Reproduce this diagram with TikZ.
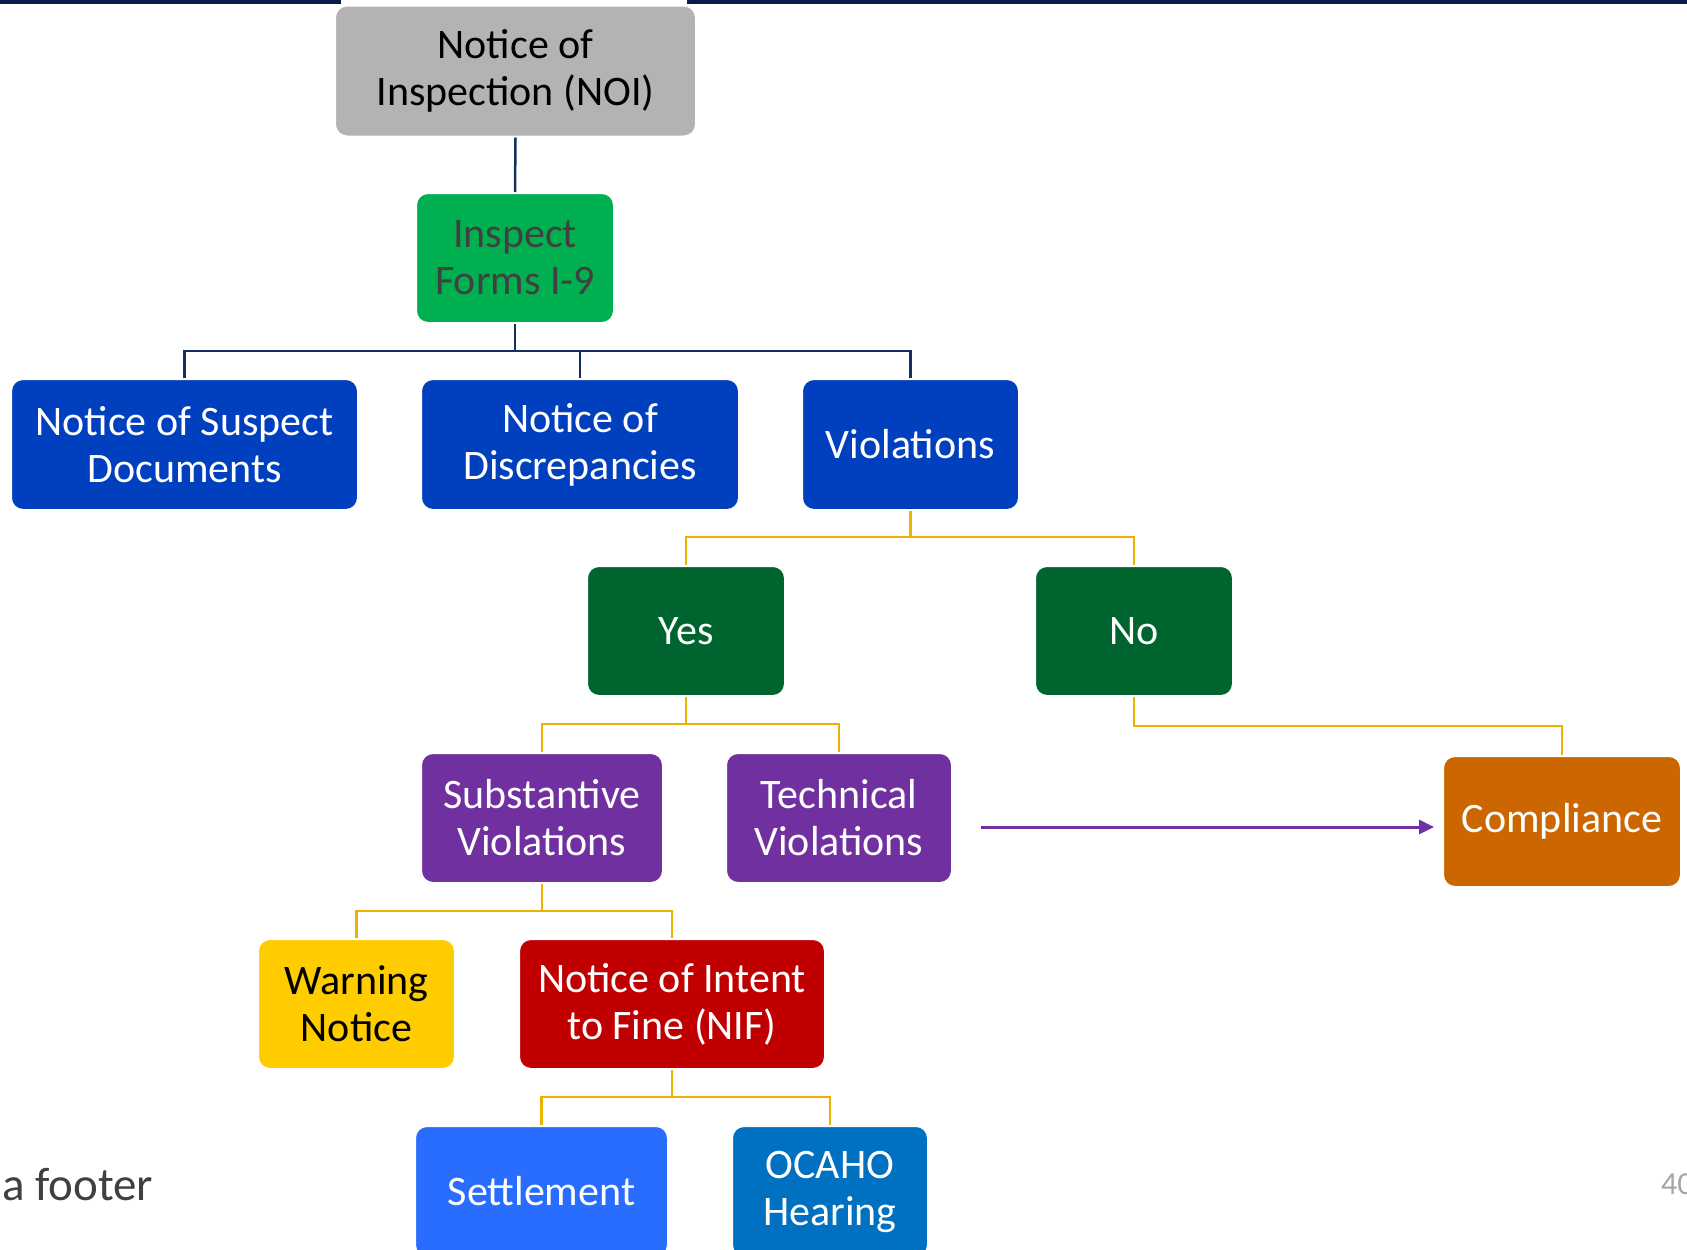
\documentclass[tikz,border=0pt]{standalone}
\usepackage{fontspec}
\setmainfont{Carlito}
\usetikzlibrary{arrows.meta}
\definecolor{topbar}{HTML}{0B1A4B}
\definecolor{navyline}{HTML}{13305E}
\definecolor{yline}{HTML}{EDB100}
\definecolor{cgray}{HTML}{B3B3B3}
\definecolor{cgreen}{HTML}{00B050}
\definecolor{cblue}{HTML}{0040BE}
\definecolor{cdkgreen}{HTML}{00642F}
\definecolor{cpurple}{HTML}{7030A0}
\definecolor{corange}{HTML}{CC6600}
\definecolor{cyellow}{HTML}{FFCC00}
\definecolor{cred}{HTML}{C00000}
\definecolor{cbright}{HTML}{296DFF}
\definecolor{cocaho}{HTML}{0070C0}
\definecolor{txtgray}{HTML}{404040}
\definecolor{pggray}{HTML}{A6A6A6}
\tikzset{
  boxstyle/.style={rectangle, rounded corners=12pt, draw=white, line width=2pt,
    inner sep=0pt, align=center, text=white,
    font=\fontsize{42}{47}\selectfont},
  navyconn/.style={draw=navyline, line width=2.5pt},
  yconn/.style={draw=yline, line width=2.8pt},
}
\begin{document}
\begin{tikzpicture}[x=1pt,y=-1pt]
\useasboundingbox (0,0) rectangle (1687,1250);
\fill[white] (0,0) rectangle (1687,1250);
\fill[topbar] (0,0) rectangle (1687,3.5);
\fill[white] (341,0) rectangle (687,4);

\coordinate (b1) at (515,351);
\coordinate (b2) at (910.5,537);
\coordinate (b3) at (686,724);
\coordinate (b4) at (1134,726);
\coordinate (b5) at (542,911);
\coordinate (b6) at (672,1097);
\coordinate (as) at (981,827);

% boxes
\node[boxstyle, fill=cgray, text=black, minimum width=361pt, minimum height=131pt] (noi) at (515.5,71) {Notice of\\Inspection (NOI)};
\node[boxstyle, fill=cgreen, text=txtgray, minimum width=198pt, minimum height=130pt] (insp) at (515,258) {Inspect\\Forms I-9};
\node[boxstyle, fill=cblue, minimum width=347pt, minimum height=131pt] (nsd) at (184.5,444.5) {Notice of Suspect\\Documents};
\node[boxstyle, fill=cblue, minimum width=318pt, minimum height=131pt] (nod) at (580,444.5) {Notice of\\Discrepancies};
\node[boxstyle, fill=cblue, minimum width=217pt, minimum height=131pt] (viol) at (910.5,444.5) {Violations};
\node[boxstyle, fill=cdkgreen, minimum width=198pt, minimum height=130pt] (yes) at (686,631) {Yes};
\node[boxstyle, fill=cdkgreen, minimum width=198pt, minimum height=130pt] (no) at (1134,631) {No};
\node[boxstyle, fill=cpurple, minimum width=242pt, minimum height=130pt] (subst) at (542,818) {Substantive\\Violations};
\node[boxstyle, fill=cpurple, minimum width=226pt, minimum height=130pt] (tech) at (839,818) {Technical\\Violations};
\node[boxstyle, fill=corange, minimum width=238pt, minimum height=131pt] (comp) at (1562,821.5) {Compliance};
\node[boxstyle, fill=cyellow, text=black, minimum width=197pt, minimum height=130pt] (warn) at (356.5,1004) {Warning\\Notice};
\node[boxstyle, fill=cred, minimum width=306pt, minimum height=130pt] (nif) at (672,1004) {Notice of Intent\\to Fine (NIF)};
\node[boxstyle, fill=cbright, minimum width=253pt, minimum height=131pt] (settle) at (541.5,1191.5) {Settlement};
\node[boxstyle, fill=cocaho, minimum width=196pt, minimum height=131pt] (ocaho) at (830,1191.5) {OCAHO\\Hearing};

% connectors
\draw[navyconn] (noi.south) -- (insp.north);
\draw[navyconn] (insp.south) -- (b1);
\draw[navyconn] (nsd.north) -- (nsd.north |- b1) -- (viol.north |- b1) -- (viol.north);
\draw[navyconn] (nod.north) -- (nod.north |- b1);

\draw[yconn] (viol.south) -- (b2);
\draw[yconn] (yes.north) -- (yes.north |- b2) -- (no.north |- b2) -- (no.north);

\draw[yconn] (yes.south) -- (b3);
\draw[yconn] (subst.north) -- (subst.north |- b3) -- (tech.north |- b3) -- (tech.north);

\draw[yconn] (no.south) -- (b4) -- (comp.north |- b4) -- (comp.north);

\draw[yconn] (subst.south) -- (b5);
\draw[yconn] (warn.north) -- (warn.north |- b5) -- (nif.north |- b5) -- (nif.north);

\draw[yconn] (nif.south) -- (b6);
\draw[yconn] (settle.north) -- (settle.north |- b6) -- (ocaho.north |- b6) -- (ocaho.north);

\draw[draw=cpurple, line width=3pt, shorten >=8pt, -{Triangle[length=15pt,width=14pt]}] (as) -- (as -| comp.west);

% footer and page number
\node[anchor=base west, inner sep=0pt, text=txtgray, font=\fontsize{47}{56}\selectfont] (footer) at (2,1200) {a footer};
\node[anchor=base west, inner sep=0pt, text=pggray, font=\fontsize{32}{38}\selectfont] (pgnum) at (1661,1194) {40};
\end{tikzpicture}
\end{document}
